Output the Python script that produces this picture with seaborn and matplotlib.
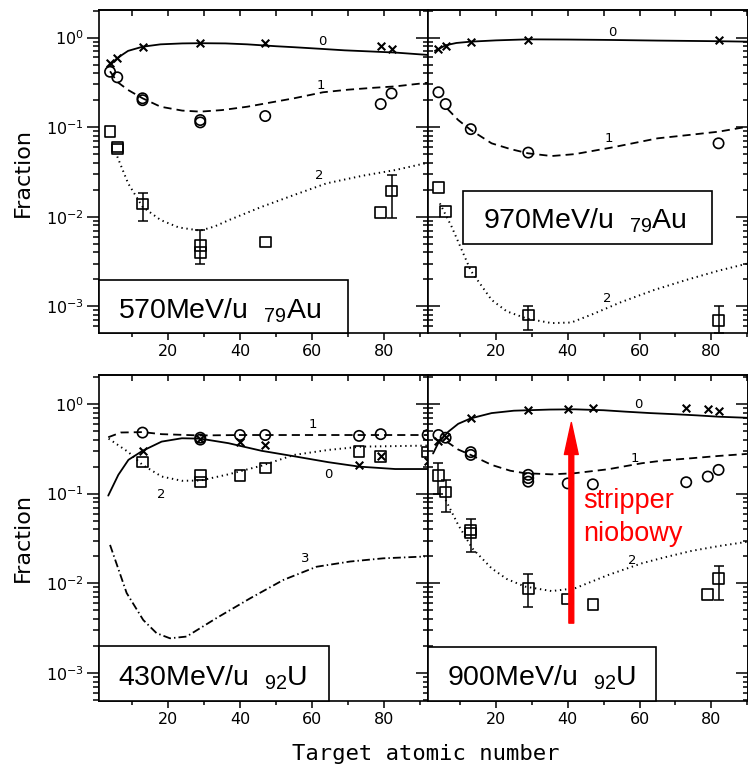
import numpy as np
import matplotlib
matplotlib.use("Agg")
import matplotlib.pyplot as plt
import seaborn as sns
from matplotlib.patches import Rectangle
from matplotlib.ticker import MultipleLocator, LogLocator, NullFormatter

# ---------------- 570 MeV/u 79Au ----------------
au570_z_q0 = [4, 6, 13, 29, 47, 79, 82]
au570_f_q0 = [0.52, 0.59, 0.79, 0.875, 0.87, 0.80, 0.74]
au570_z_q1 = [4, 6, 13, 13, 29, 29, 47, 79, 82]
au570_f_q1 = [0.415, 0.36, 0.21, 0.20, 0.12, 0.113, 0.133, 0.181, 0.238]
au570_z_q2 = [4, 6, 6, 13, 29, 29, 47, 79, 82]
au570_f_q2 = [0.089, 0.060, 0.057, 0.0139, 0.0048, 0.0040, 0.0052, 0.0112, 0.0194]
au570_err_z = [13, 29, 82]
au570_err_c = [0.0139, 0.0044, 0.0194]
au570_err_lo = [0.0090, 0.0030, 0.0096]
au570_err_hi = [0.0185, 0.0071, 0.029]
au570_cz0 = [4, 6, 9, 13, 18, 24, 29, 36, 42, 50, 55, 62, 69, 76, 83, 92]
au570_cf0 = [0.49, 0.59, 0.71, 0.79, 0.84, 0.86, 0.865, 0.86, 0.84, 0.80, 0.78, 0.75, 0.72, 0.70, 0.68, 0.64]
au570_cz1 = [4, 6, 9, 13, 18, 24, 29, 35, 42, 49, 55, 63, 70, 77, 83, 92]
au570_cf1 = [0.42, 0.32, 0.26, 0.21, 0.169, 0.153, 0.149, 0.155, 0.169, 0.19, 0.21, 0.245, 0.262, 0.275, 0.285, 0.313]
au570_cz2 = [6, 9, 13, 18, 23, 29, 33, 37, 46, 55, 64, 74, 83, 92]
au570_cf2 = [0.047, 0.0236, 0.0129, 0.0092, 0.0076, 0.0070, 0.0078, 0.0092, 0.0129, 0.0175, 0.0236, 0.0287, 0.0332, 0.040]

# ---------------- 970 MeV/u 79Au ----------------
au970_z_q0 = [4, 6, 13, 29, 82]
au970_f_q0 = [0.74, 0.80, 0.90, 0.94, 0.94]
au970_z_q1 = [4, 6, 13, 29, 82]
au970_f_q1 = [0.245, 0.181, 0.095, 0.052, 0.066]
au970_z_q2 = [4, 6, 13, 29, 82]
au970_f_q2 = [0.0213, 0.0114, 0.00243, 0.0008, 0.0007]
au970_err_z = [29, 82]
au970_err_c = [0.0008, 0.0007]
au970_err_lo = [0.00055, 0.0005]
au970_err_hi = [0.00102, 0.00101]
au970_cz0 = [3, 6, 9, 13, 20, 29, 40, 52, 65, 82, 90]
au970_cf0 = [0.71, 0.82, 0.87, 0.90, 0.93, 0.955, 0.95, 0.94, 0.925, 0.91, 0.90]
au970_cz1 = [6.5, 9.5, 13, 18.8, 24, 29, 35.5, 42, 52, 65, 74, 82, 90]
au970_cf1 = [0.16, 0.12, 0.093, 0.066, 0.057, 0.051, 0.0476, 0.050, 0.059, 0.075, 0.082, 0.089, 0.101]
au970_cz2 = [4.4, 7.7, 13, 18.8, 23, 28.6, 35.5, 41, 47, 55, 64, 73, 82, 90]
au970_cf2 = [0.0141, 0.0077, 0.0025, 0.00118, 0.00088, 0.00073, 0.00065, 0.00066, 0.00082, 0.00112,
             0.00152, 0.00197, 0.0025, 0.0030]

# ---------------- 430 MeV/u 92U ----------------
u430_z_q0 = [13, 29, 40, 47, 73, 79, 92]
u430_f_q0 = [0.30, 0.41, 0.38, 0.35, 0.209, 0.26, 0.23]
u430_z_q1 = [13, 29, 29, 40, 47, 73, 79, 92]
u430_f_q1 = [0.479, 0.42, 0.40, 0.45, 0.45, 0.44, 0.46, 0.45]
u430_z_q2 = [13, 29, 29, 40, 47, 73, 79, 92]
u430_f_q2 = [0.224, 0.162, 0.135, 0.159, 0.192, 0.294, 0.26, 0.29]
u430_cz0 = [3.5, 6.3, 9.1, 13, 18.3, 23.9, 29, 36.8, 46, 55.2, 64.5, 73, 83, 92]
u430_cf0 = [0.095, 0.162, 0.238, 0.30, 0.38, 0.414, 0.41, 0.365, 0.30, 0.26, 0.224, 0.20, 0.188, 0.188]
u430_cz1 = [3.5, 7, 13, 18.3, 29, 40, 50, 60, 70, 80, 92]
u430_cf1 = [0.425, 0.48, 0.485, 0.46, 0.445, 0.45, 0.45, 0.45, 0.45, 0.45, 0.45]
u430_cz2 = [3.6, 9.1, 13, 18.3, 23.9, 29, 36.8, 46, 55, 64.5, 73.7, 92]
u430_cf2 = [0.41, 0.29, 0.209, 0.155, 0.139, 0.14, 0.164, 0.205, 0.27, 0.307, 0.334, 0.343]
u430_cz3 = [4, 8.6, 13.2, 16.9, 20.6, 25.2, 33.5, 42.8, 52, 61.2, 70.5, 79.7, 91.2]
u430_cf3 = [0.0268, 0.0078, 0.0039, 0.00278, 0.00244, 0.00255, 0.0041, 0.0068, 0.0109, 0.0153,
            0.0175, 0.019, 0.0199]

# ---------------- 900 MeV/u 92U ----------------
u900_z_q0 = [4, 6, 13, 29, 40, 47, 73, 79, 82]
u900_f_q0 = [0.386, 0.43, 0.69, 0.857, 0.88, 0.895, 0.895, 0.873, 0.835]
u900_z_q1 = [4, 6, 13, 13, 29, 29, 29, 40, 47, 73, 79, 82]
u900_f_q1 = [0.45, 0.42, 0.29, 0.27, 0.162, 0.149, 0.136, 0.13, 0.127, 0.134, 0.155, 0.184]
u900_z_q2 = [4, 6, 13, 13, 29, 40, 47, 79, 82]
u900_f_q2 = [0.159, 0.104, 0.0393, 0.0362, 0.0088, 0.0067, 0.00585, 0.00755, 0.0114]
u900_err_z = [4, 6, 13, 29, 82]
u900_err_c = [0.159, 0.104, 0.0377, 0.0088, 0.0114]
u900_err_lo = [0.098, 0.063, 0.0226, 0.0054, 0.0065]
u900_err_hi = [0.218, 0.142, 0.0522, 0.0127, 0.0156]
u900_cz0 = [2.5, 4, 6.75, 9.5, 13, 18.8, 25, 29, 35, 42, 50, 56, 63, 70, 76, 82, 90]
u900_cf0 = [0.28, 0.37, 0.49, 0.60, 0.69, 0.79, 0.84, 0.85, 0.865, 0.87, 0.85, 0.82, 0.79, 0.767,
            0.745, 0.72, 0.70]
u900_cz1 = [6.3, 9.5, 13, 18.8, 24, 28, 35.5, 42, 51.3, 60.6, 67, 74.5, 82, 89.9]
u900_cf1 = [0.38, 0.31, 0.27, 0.209, 0.18, 0.169, 0.164, 0.169, 0.187, 0.218, 0.235, 0.248, 0.263, 0.277]
u900_cz2 = [6, 9.5, 13.4, 18.8, 23, 28.1, 35.5, 42, 51.3, 60.6, 67, 74.5, 82, 89.9]
u900_cf2 = [0.085, 0.0448, 0.0246, 0.0147, 0.0112, 0.0092, 0.0082, 0.0088, 0.0124, 0.0167, 0.0195,
            0.023, 0.026, 0.029]

# niobium stripper marker
stripper_z = 41
stripper_f = [0.0036, 0.62]

# ---------------------------------------------------------------
sns.set_theme(style="white")
plt.rcParams["font.family"] = ["DejaVu Sans"]
plt.rcParams["axes.linewidth"] = 1.2
plt.rcParams["axes.edgecolor"] = "black"

W, H = 748, 771
fig = plt.figure(figsize=(W / 100, H / 100), dpi=100)
fig.patch.set_facecolor("white")


def px_axes(x0, y0, x1, y1):
    return fig.add_axes([x0 / W, 1 - y1 / H, (x1 - x0) / W, (y1 - y0) / H])


SOLID = "-"
DASH = (0, (4.5, 2.8))
DOT = (0, (0.7, 1.9))
DASHDOT = (0, (4.4, 1.7, 0.8, 1.7))


def setup(ax, ylim, xlim, left_panel):
    ax.set_facecolor("white")
    ax.set_yscale("log")
    ax.set_xlim(*xlim)
    ax.set_ylim(*ylim)
    for s in ax.spines.values():
        s.set_color("black")
        s.set_linewidth(1.2)
    ax.xaxis.set_major_locator(MultipleLocator(20))
    ax.xaxis.set_minor_locator(MultipleLocator(10))
    ax.yaxis.set_major_locator(LogLocator(base=10, numticks=10))
    ax.yaxis.set_minor_locator(LogLocator(base=10, subs=np.arange(2, 10), numticks=30))
    ax.yaxis.set_minor_formatter(NullFormatter())
    ax.tick_params(axis="x", which="both", direction="out", bottom=True, top=False,
                   labelsize=11.5, pad=3, colors="black", width=1.1)
    ax.tick_params(axis="x", which="major", length=5)
    ax.tick_params(axis="x", which="minor", length=3)
    if left_panel:
        ax.tick_params(axis="y", which="both", direction="out", left=True, right=False,
                       labelsize=11.5, pad=2.5, colors="black", width=1.1)
        ax.tick_params(axis="y", which="major", length=8.5)
        ax.tick_params(axis="y", which="minor", length=4.5)
    else:
        ax.tick_params(axis="y", which="both", direction="in", left=True, right=False,
                       labelleft=False, colors="black", width=1.1)
        ax.tick_params(axis="y", which="major", length=8.5)
        ax.tick_params(axis="y", which="minor", length=3.5)
    ax.set_xlabel("")
    ax.set_ylabel("")

    top = ax.secondary_xaxis("top")
    top.xaxis.set_major_locator(MultipleLocator(10))
    top.tick_params(axis="x", direction="in", length=4.5, width=1.1, labeltop=False, colors="black")
    right = ax.secondary_yaxis("right")
    right.yaxis.set_major_locator(LogLocator(base=10, numticks=10))
    right.yaxis.set_minor_locator(LogLocator(base=10, subs=np.arange(2, 10), numticks=30))
    right.yaxis.set_minor_formatter(NullFormatter())
    right.tick_params(axis="y", which="both", direction="in", width=1.1, labelright=False, colors="black")
    right.tick_params(axis="y", which="major", length=8.5)
    right.tick_params(axis="y", which="minor", length=3.5)


def curve(ax, z, f, ls, lw=1.3):
    sns.lineplot(x=z, y=f, ax=ax, color="black", lw=lw, linestyle=ls,
                 sort=False, estimator=None, zorder=2)


def points(ax, z, f, kind):
    if kind == "x":
        sns.scatterplot(x=z, y=f, ax=ax, marker="x", s=30, color="black",
                        linewidth=1.5, zorder=3, clip_on=False)
    elif kind == "o":
        sns.scatterplot(x=z, y=f, ax=ax, marker="o", s=55, facecolor="none",
                        edgecolor="black", linewidth=1.2, zorder=3, clip_on=False)
    else:
        sns.scatterplot(x=z, y=f, ax=ax, marker="s", s=58, facecolor="none",
                        edgecolor="black", linewidth=1.2, zorder=3, clip_on=False)


def errbars(ax, z, c, lo, hi):
    c = np.asarray(c)
    yerr = [c - np.asarray(lo), np.asarray(hi) - c]
    ax.errorbar(z, c, yerr=yerr, fmt="none", ecolor="black", elinewidth=1.1,
                capsize=3.5, capthick=1.1, zorder=3, clip_on=False)


def tag(ax, rect, text_xy, label):
    ax.add_patch(Rectangle(rect[:2], rect[2], rect[3], transform=ax.transAxes,
                           facecolor="white", edgecolor="black", lw=1.2, zorder=5,
                           clip_on=False))
    ax.text(text_xy[0], text_xy[1], label, transform=ax.transAxes, ha="left", va="baseline",
            fontsize=20.5, family="Liberation Sans", color="black", zorder=6)


def qlabel(ax, z, f, s):
    ax.text(z, f, s, ha="center", va="center", fontsize=9.5, color="black", zorder=4)


TOP_YLIM = (5.04e-4, 2.03)
BOT_YLIM = (4.88e-4, 2.1)
LEFT_XLIM = (0.94, 92.1)
RIGHT_XLIM = (1.09, 90.2)

ax_tl = px_axes(99, 10, 428, 333)
ax_tr = px_axes(428, 10, 748, 333)
ax_bl = px_axes(99, 375, 428, 701)
ax_br = px_axes(428, 375, 748, 701)

setup(ax_tl, TOP_YLIM, LEFT_XLIM, True)
setup(ax_tr, TOP_YLIM, RIGHT_XLIM, False)
setup(ax_bl, BOT_YLIM, LEFT_XLIM, True)
setup(ax_br, BOT_YLIM, RIGHT_XLIM, False)

# 570 MeV/u Au
curve(ax_tl, au570_cz0, au570_cf0, SOLID)
curve(ax_tl, au570_cz1, au570_cf1, DASH)
curve(ax_tl, au570_cz2, au570_cf2, DOT, lw=1.4)
points(ax_tl, au570_z_q0, au570_f_q0, "x")
points(ax_tl, au570_z_q1, au570_f_q1, "o")
points(ax_tl, au570_z_q2, au570_f_q2, "s")
errbars(ax_tl, au570_err_z, au570_err_c, au570_err_lo, au570_err_hi)
qlabel(ax_tl, 62.8, 0.90, "0")
qlabel(ax_tl, 62.5, 0.295, "1")
qlabel(ax_tl, 62.0, 0.029, "2")
tag(ax_tl, (0, 0, 0.757, 0.164), (0.058, 0.046), r"570MeV/u  $\mathregular{_{79}}$Au")

# 970 MeV/u Au
curve(ax_tr, au970_cz0, au970_cf0, SOLID)
curve(ax_tr, au970_cz1, au970_cf1, DASH)
curve(ax_tr, au970_cz2, au970_cf2, DOT, lw=1.4)
points(ax_tr, au970_z_q0, au970_f_q0, "x")
points(ax_tr, au970_z_q1, au970_f_q1, "o")
points(ax_tr, au970_z_q2, au970_f_q2, "s")
errbars(ax_tr, au970_err_z, au970_err_c, au970_err_lo, au970_err_hi)
qlabel(ax_tr, 52.5, 1.13, "0")
qlabel(ax_tr, 51.5, 0.075, "1")
qlabel(ax_tr, 51.1, 0.00123, "2")
tag(ax_tr, (0.110, 0.275, 0.778, 0.165), (0.173, 0.324), r"970MeV/u  $\mathregular{_{79}}$Au")

# 430 MeV/u U
curve(ax_bl, u430_cz1, u430_cf1, DASH)
curve(ax_bl, u430_cz0, u430_cf0, SOLID)
curve(ax_bl, u430_cz2, u430_cf2, DOT, lw=1.4)
curve(ax_bl, u430_cz3, u430_cf3, DASHDOT)
points(ax_bl, u430_z_q0, u430_f_q0, "x")
points(ax_bl, u430_z_q1, u430_f_q1, "o")
points(ax_bl, u430_z_q2, u430_f_q2, "s")
qlabel(ax_bl, 60.3, 0.59, "1")
qlabel(ax_bl, 64.5, 0.164, "0")
qlabel(ax_bl, 18.3, 0.098, "2")
qlabel(ax_bl, 58.0, 0.019, "3")
tag(ax_bl, (0, 0, 0.699, 0.169), (0.059, 0.049), r"430MeV/u  $\mathregular{_{92}}$U")

# 900 MeV/u U
curve(ax_br, u900_cz0, u900_cf0, SOLID)
curve(ax_br, u900_cz1, u900_cf1, DASH)
curve(ax_br, u900_cz2, u900_cf2, DOT, lw=1.4)
points(ax_br, u900_z_q0, u900_f_q0, "x")
points(ax_br, u900_z_q1, u900_f_q1, "o")
points(ax_br, u900_z_q2, u900_f_q2, "s")
errbars(ax_br, u900_err_z, u900_err_c, u900_err_lo, u900_err_hi)
qlabel(ax_br, 59.7, 0.99, "0")
qlabel(ax_br, 58.7, 0.248, "1")
qlabel(ax_br, 58.0, 0.0182, "2")
tag(ax_br, (0, 0, 0.7125, 0.166), (0.058, 0.049), r"900MeV/u  $\mathregular{_{92}}$U")

# stripper arrow and caption
ax_br.annotate("", xy=(stripper_z, stripper_f[1]), xytext=(stripper_z, stripper_f[0]),
               arrowprops=dict(arrowstyle="simple,head_length=2.3,head_width=1.0,tail_width=0.35",
                               mutation_scale=10, color="#ff0000", shrinkA=0, shrinkB=0),
               zorder=7)
ax_br.text(44.3, 0.0687, "stripper", color="#ff0000", fontsize=19.5,
           family="Liberation Sans", ha="left", va="baseline", zorder=7)
ax_br.text(44.3, 0.0299, "niobowy", color="#ff0000", fontsize=19.5,
           family="Liberation Sans", ha="left", va="baseline", zorder=7)

# shared axis titles
fig.text(22.5 / W, 1 - 172.5 / H, "Fraction", rotation=90, ha="center", va="center",
         fontsize=16, color="black")
fig.text(22.5 / W, 1 - 537.5 / H, "Fraction", rotation=90, ha="center", va="center",
         fontsize=16, color="black")
fig.text(426 / W, 1 - 760 / H, "Target atomic number", ha="center", va="baseline",
         fontsize=16, family="DejaVu Sans Mono", color="black")

fig.savefig("out.png", dpi=100, facecolor="white")
